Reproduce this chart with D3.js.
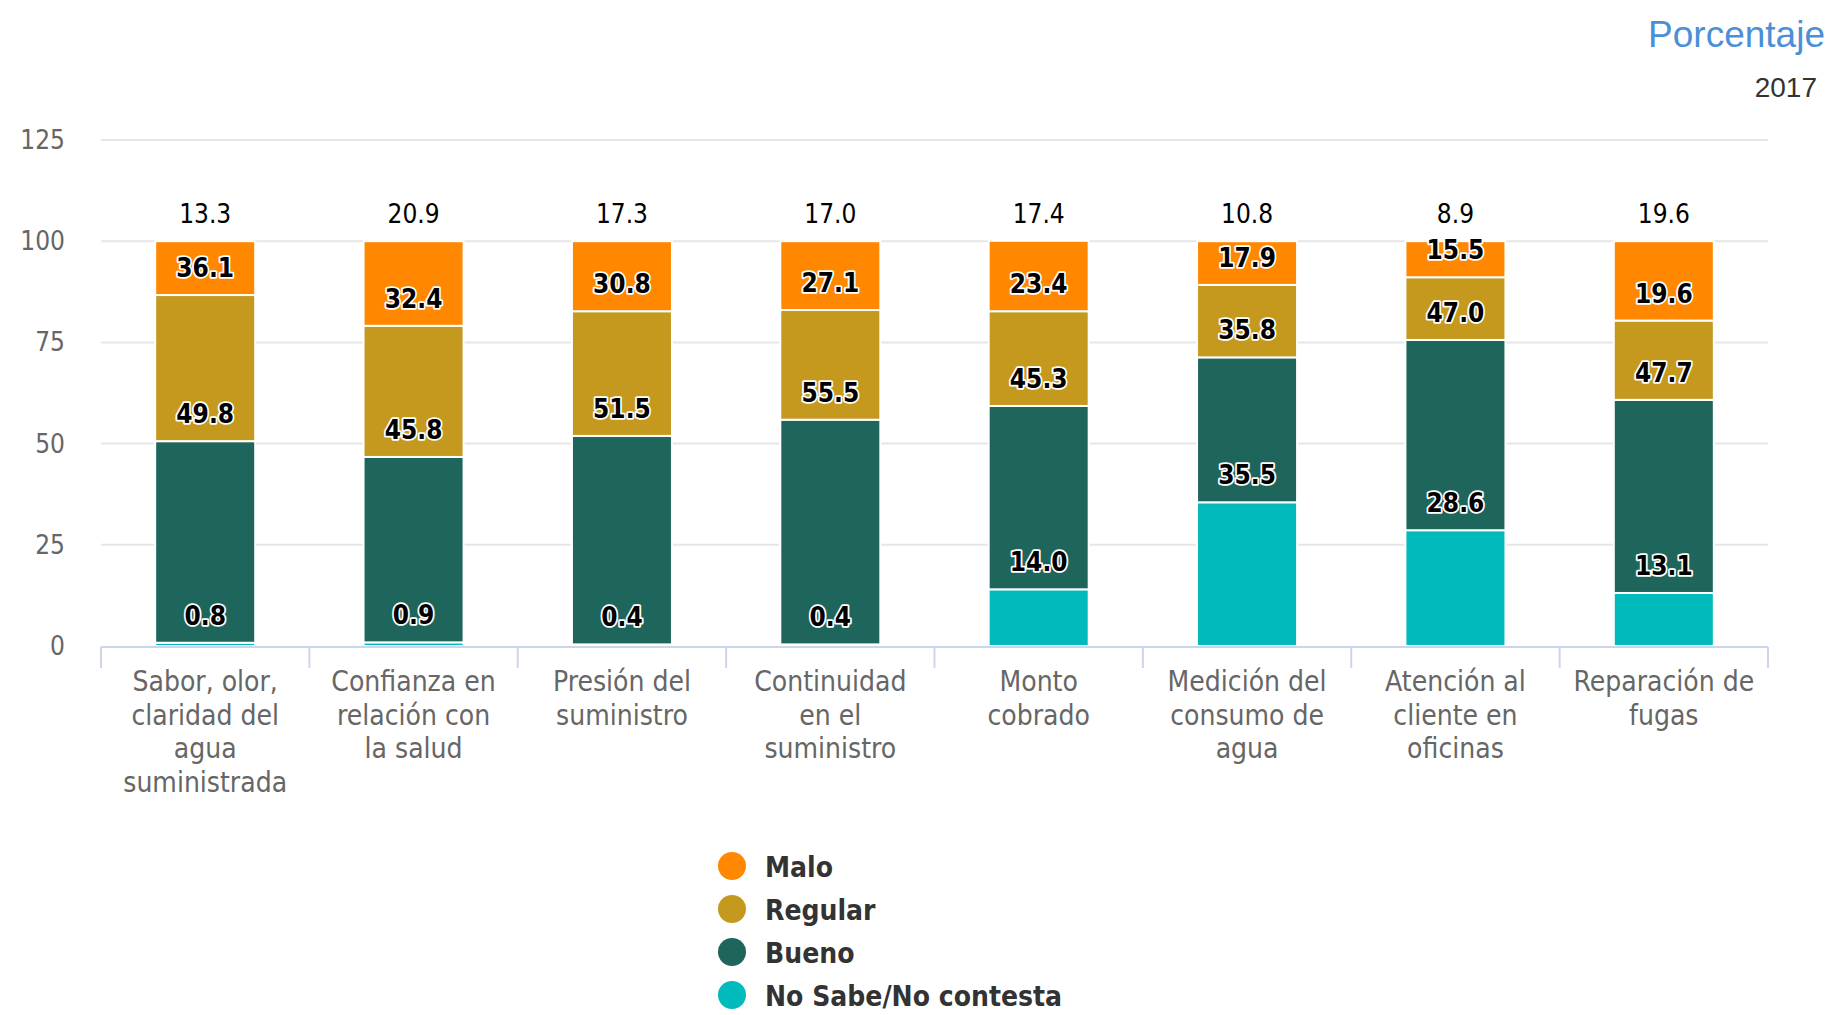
<!DOCTYPE html>
<html>
<head>
<meta charset="utf-8">
<script src="https://cdn.jsdelivr.net/npm/d3@7"></script>
<style>
  html, body { margin: 0; padding: 0; background: #fff; }
  svg { display: block; }
</style>
</head>
<body>
<svg id="chart" width="1831" height="1015"></svg>
<script>
// ---- data ----
const categories = [
  "Sabor, olor,\nclaridad del\nagua\nsuministrada",
  "Confianza en\nrelación con\nla salud",
  "Presión del\nsuministro",
  "Continuidad\nen el\nsuministro",
  "Monto\ncobrado",
  "Medición del\nconsumo de\nagua",
  "Atención al\ncliente en\noficinas",
  "Reparación de\nfugas"
];
const noSabe  = [0.8, 0.9, 0.4, 0.4, 14.0, 35.5, 28.6, 13.1];
const bueno   = [49.8, 45.8, 51.5, 55.5, 45.3, 35.8, 47.0, 47.7];
const regular = [36.1, 32.4, 30.8, 27.1, 23.4, 17.9, 15.5, 19.6];
const malo    = [13.3, 20.9, 17.3, 17.0, 17.4, 10.8, 8.9, 19.6];
const seriesNames = ["Malo", "Regular", "Bueno", "No Sabe/No contesta"];
const yTicks = [0, 25, 50, 75, 100, 125];
const titleText = "Porcentaje";
const yearText = "2017";

// ---- styles ----
const colors = {
  "Malo": "#FF8800",
  "Regular": "#C5991E",
  "Bueno": "#1E665C",
  "No Sabe/No contesta": "#00BABB"
};
const FONT = "'DejaVu Sans Condensed', 'DejaVu Sans', sans-serif";

const svg = d3.select("#chart");

// build table
const keys = ["No Sabe/No contesta", "Bueno", "Regular", "Malo"];
const table = categories.map((c, i) => ({
  cat: c,
  "No Sabe/No contesta": noSabe[i],
  "Bueno": bueno[i],
  "Regular": regular[i],
  "Malo": malo[i]
}));
const stacked = d3.stack().keys(keys)(table);

const x = d3.scaleBand().domain(categories).range([101, 1768]).padding(0);
const y = d3.scaleLinear().domain([0, 125]).range([646, 140]);
const barW = x.bandwidth() * 0.48;

// gridlines
svg.append("g").selectAll("line").data(yTicks.filter(t => t > 0)).join("line")
  .attr("x1", x.range()[0]).attr("x2", x.range()[1])
  .attr("y1", d => y(d)).attr("y2", d => y(d))
  .attr("stroke", "#e6e6e6").attr("stroke-width", 2);

// y labels
svg.append("g").selectAll("text").data(yTicks).join("text")
  .attr("x", 65).attr("y", d => y(d) + 9)
  .attr("text-anchor", "end")
  .attr("font-family", FONT).attr("font-size", 26)
  .attr("fill", "#666666")
  .text(d => d);

// bars
svg.append("g").selectAll("g").data(stacked).join("g")
  .attr("fill", s => colors[s.key])
  .selectAll("rect").data(s => s).join("rect")
  .attr("x", d => x(d.data.cat) + (x.bandwidth() - barW) / 2)
  .attr("width", barW)
  .attr("y", d => y(d[1]))
  .attr("height", d => Math.max(0, y(d[0]) - y(d[1])))
  .attr("stroke", "#ffffff").attr("stroke-width", 2);

// x axis line
svg.append("line")
  .attr("x1", x.range()[0]).attr("x2", x.range()[1])
  .attr("y1", y(0) + 1).attr("y2", y(0) + 1)
  .attr("stroke", "#ccd6eb").attr("stroke-width", 2);

// x ticks at category boundaries
const boundaries = categories.map(c => x(c)).concat([x.range()[1]]);
svg.append("g").selectAll("line").data(boundaries).join("line")
  .attr("x1", d => d).attr("x2", d => d)
  .attr("y1", y(0) + 1).attr("y2", y(0) + 22)
  .attr("stroke", "#ccd6eb").attr("stroke-width", 2);

// x labels
const xl = svg.append("g").selectAll("text").data(categories).join("text")
  .attr("text-anchor", "middle")
  .attr("font-family", FONT).attr("font-size", 28)
  .attr("fill", "#666666");
xl.each(function(c) {
  const t = d3.select(this);
  c.split("\n").forEach((line, i) => {
    t.append("tspan")
      .attr("x", x(c) + x.bandwidth() / 2)
      .attr("y", 691 + i * 33.5)
      .text(line);
  });
});

// data labels
stacked.forEach(s => {
  const top = s.key === "Malo";
  svg.append("g").selectAll("text").data(s).join("text")
    .attr("x", d => x(d.data.cat) + x.bandwidth() / 2)
    .attr("y", d => y(d[1]) - 18)
    .attr("text-anchor", "middle")
    .attr("font-family", FONT).attr("font-size", 26)
    .attr("font-weight", top ? "normal" : "bold")
    .attr("fill", "#000000")
    .attr("stroke", top ? "none" : "#ffffff")
    .attr("stroke-width", top ? 0 : 3.5)
    .attr("stroke-linejoin", "round")
    .attr("paint-order", "stroke")
    .text(d => (d[1] - d[0]).toFixed(1));
});

// legend
const lg = svg.append("g").selectAll("g").data(seriesNames).join("g")
  .attr("transform", (d, i) => `translate(732, ${866 + i * 43})`);
lg.append("circle").attr("r", 14).attr("fill", d => colors[d]);
lg.append("text").attr("x", 33).attr("y", 11)
  .attr("font-family", FONT).attr("font-size", 28).attr("font-weight", "bold")
  .attr("fill", "#333333").text(d => d);

// title / subtitle
svg.append("text").attr("x", 1825).attr("y", 47).attr("text-anchor", "end")
  .attr("font-family", "'Liberation Sans', Arial, sans-serif").attr("font-size", 37)
  .attr("fill", "#4A8FD8").text(titleText);
svg.append("text").attr("x", 1817).attr("y", 97).attr("text-anchor", "end")
  .attr("font-family", "'Liberation Sans', Arial, sans-serif").attr("font-size", 28)
  .attr("fill", "#333333").text(yearText);
</script>
</body>
</html>
